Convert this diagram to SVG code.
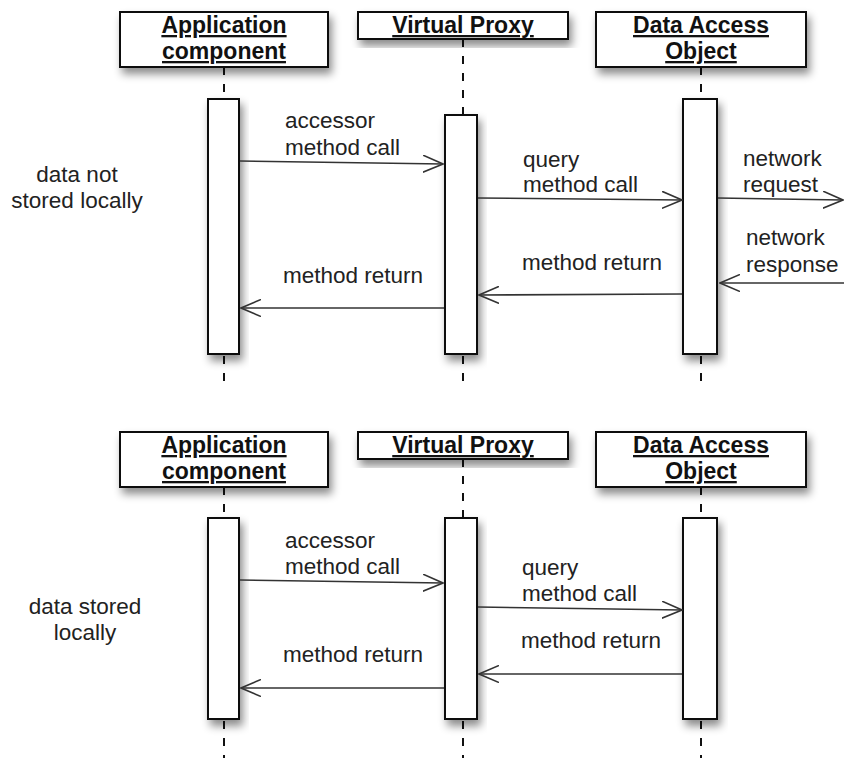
<svg xmlns="http://www.w3.org/2000/svg" width="844" height="758" viewBox="0 0 844 758">
<defs>
<filter id="sh" x="-30%" y="-30%" width="160%" height="160%">
<feDropShadow dx="3" dy="6" stdDeviation="4" flood-color="#000" flood-opacity="0.45"/>
</filter>
<marker id="ah" viewBox="0 0 21 18" refX="20" refY="9" markerWidth="21" markerHeight="18" markerUnits="userSpaceOnUse" orient="auto">
<path d="M0,0.5 L20,9 L0,17.5" fill="none" stroke="#333" stroke-width="1.6"/>
</marker>
</defs>
<style>
.hd{fill:#fff;stroke:#111;stroke-width:2;filter:url(#sh)}
.act{fill:#fff;stroke:#111;stroke-width:2;filter:url(#sh)}
.ll{stroke:#111;stroke-width:2;stroke-dasharray:8 9;fill:none}
.ht{font-family:"Liberation Sans",Arial,sans-serif;font-weight:bold;font-size:23px;fill:#111;text-anchor:middle;text-decoration:underline}
.t{font-family:"Liberation Sans",Arial,sans-serif;font-size:22.5px;fill:#222}
.lb{font-family:"Liberation Sans",Arial,sans-serif;font-size:22.5px;fill:#222;text-anchor:middle}
.msg{stroke:#333;stroke-width:1.6;fill:none;marker-end:url(#ah)}
</style>
<rect width="844" height="758" fill="#fff"/>

<!-- Top scenario -->
<g id="top-app">
<line class="ll" x1="224" y1="67" x2="224" y2="99"/>
<line class="ll" x1="224" y1="356" x2="224" y2="386"/>
<rect class="hd" x="120" y="12" width="208" height="55"/>
<text class="ht" x="224" y="33">Application</text>
<text class="ht" x="224" y="59">component</text>
<rect class="act" x="208" y="99" width="31" height="255"/>
</g>
<g id="top-proxy">
<line class="ll" x1="463" y1="39" x2="463" y2="115"/>
<line class="ll" x1="463" y1="356" x2="463" y2="386"/>
<rect class="hd" x="358" y="12" width="210" height="27"/>
<text class="ht" x="463" y="33">Virtual Proxy</text>
<rect class="act" x="445" y="115" width="32" height="239"/>
</g>
<g id="top-dao">
<line class="ll" x1="701" y1="67" x2="701" y2="99"/>
<line class="ll" x1="701" y1="356" x2="701" y2="386"/>
<rect class="hd" x="596" y="12" width="210" height="55"/>
<text class="ht" x="701" y="33">Data Access</text>
<text class="ht" x="701" y="59">Object</text>
<rect class="act" x="683" y="99" width="34" height="255"/>
</g>
<g id="top-label">
<text class="lb" x="77" y="182">data not</text>
<text class="lb" x="77" y="208">stored locally</text>
</g>

<!-- Bottom scenario -->
<g id="bottom-app">
<line class="ll" x1="224" y1="487" x2="224" y2="518"/>
<line class="ll" x1="224" y1="721" x2="224" y2="758"/>
<rect class="hd" x="120" y="432" width="208" height="55"/>
<text class="ht" x="224" y="453">Application</text>
<text class="ht" x="224" y="479">component</text>
<rect class="act" x="208" y="518" width="31" height="201"/>
</g>
<g id="bottom-proxy">
<line class="ll" x1="463" y1="459" x2="463" y2="518"/>
<line class="ll" x1="463" y1="721" x2="463" y2="758"/>
<rect class="hd" x="358" y="432" width="210" height="27"/>
<text class="ht" x="463" y="453">Virtual Proxy</text>
<rect class="act" x="445" y="518" width="32" height="201"/>
</g>
<g id="bottom-dao">
<line class="ll" x1="701" y1="487" x2="701" y2="518"/>
<line class="ll" x1="701" y1="721" x2="701" y2="758"/>
<rect class="hd" x="596" y="432" width="210" height="55"/>
<text class="ht" x="701" y="453">Data Access</text>
<text class="ht" x="701" y="479">Object</text>
<rect class="act" x="683" y="518" width="34" height="201"/>
</g>
<g id="bottom-label">
<text class="lb" x="85" y="614">data stored</text>
<text class="lb" x="85" y="640">locally</text>
</g>

<!-- Connectors -->
<g id="connectors">
<line class="msg" x1="240" y1="161" x2="443" y2="164"/>
<line class="msg" x1="478" y1="198" x2="682" y2="200"/>
<line class="msg" x1="718" y1="198" x2="843" y2="200"/>
<line class="msg" x1="844" y1="283" x2="720" y2="283"/>
<line class="msg" x1="682" y1="294" x2="479" y2="295"/>
<line class="msg" x1="444" y1="308" x2="241" y2="308"/>

<line class="msg" x1="240" y1="580" x2="443" y2="583"/>
<line class="msg" x1="478" y1="607" x2="682" y2="610"/>
<line class="msg" x1="682" y1="674" x2="479" y2="674"/>
<line class="msg" x1="444" y1="688" x2="241" y2="688"/>
</g>

<g id="message-labels">
<text class="t" x="285" y="128">accessor</text>
<text class="t" x="285" y="155">method call</text>
<text class="t" x="523" y="167">query</text>
<text class="t" x="523" y="192">method call</text>
<text class="t" x="743" y="166">network</text>
<text class="t" x="743" y="192">request</text>
<text class="t" x="746" y="245">network</text>
<text class="t" x="746" y="272">response</text>
<text class="t" x="522" y="270">method return</text>
<text class="t" x="283" y="283">method return</text>

<text class="t" x="285" y="548">accessor</text>
<text class="t" x="285" y="574">method call</text>
<text class="t" x="522" y="575">query</text>
<text class="t" x="522" y="601">method call</text>
<text class="t" x="521" y="648">method return</text>
<text class="t" x="283" y="662">method return</text>
</g>
</svg>
